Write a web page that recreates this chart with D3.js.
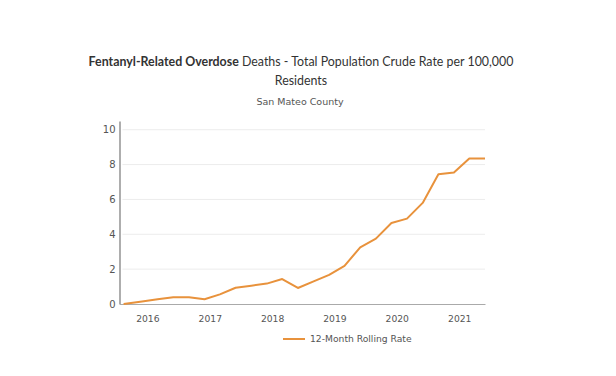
<!DOCTYPE html>
<html>
<head>
<meta charset="utf-8">
<script src="https://cdn.jsdelivr.net/npm/d3@7"></script>
<style>
  body { margin: 0; background: #fff; }
  svg { display: block; }
</style>
</head>
<body>
<svg id="chart" width="616" height="376"></svg>
<script>
// ---- data ----
const dates = [
  "2015-08-15","2015-12-01","2016-03-01","2016-06-01","2016-09-01","2016-12-01",
  "2017-03-01","2017-06-01","2017-09-01","2017-12-01","2018-03-01","2018-06-01",
  "2018-09-01","2018-12-01","2019-03-01","2019-06-01","2019-09-01","2019-12-01",
  "2020-03-01","2020-06-01","2020-09-01","2020-12-01","2021-03-01","2021-06-01"
];
const rates = [
  0.00, 0.15, 0.27, 0.39, 0.39, 0.27,
  0.55, 0.93, 1.05, 1.17, 1.43, 0.92,
  1.30, 1.67, 2.19, 3.25, 3.75, 4.65,
  4.90, 5.80, 7.44, 7.54, 8.35, 8.35
];
const yTicks = [0, 2, 4, 6, 8, 10];
const xTickYears = [2016, 2017, 2018, 2019, 2020, 2021];
const seriesName = "12-Month Rolling Rate";
const titleBold = "Fentanyl-Related Overdose";
const titleRest = " Deaths - Total Population Crude Rate per 100,000";
const titleLine2 = "Residents";
const subtitle = "San Mateo County";

(function () {
const svg = d3.select("#chart");
const parse = d3.utcParse("%Y-%m-%d");
const data = dates.map((d, i) => ({ date: parse(d), value: rates[i] }));

const mLeft = 119.5, mRight = 485, mTop = 121, mBottom = 304;
const x = d3.scaleUtc()
  .domain([parse("2015-07-22"), parse("2021-06-01")])
  .range([mLeft, mRight]);
const y = d3.scaleLinear().domain([0, 10.5]).range([mBottom, mTop]);

const color = "#E8923C";

// gridlines
svg.append("g")
  .selectAll("line")
  .data(yTicks.filter(t => t > 0))
  .join("line")
  .attr("x1", mLeft + 3).attr("x2", mRight)
  .attr("y1", d => y(d)).attr("y2", d => y(d))
  .attr("stroke", "#ececec").attr("stroke-width", 1);

// y axis
const yAxis = svg.append("g")
  .attr("transform", `translate(${mLeft},0)`)
  .call(d3.axisLeft(y).tickValues(yTicks).tickSize(0).tickPadding(4));
yAxis.select(".domain").attr("stroke", "#777").attr("stroke-width", 1.2);
yAxis.selectAll("text")
  .attr("fill", "#555").style("font-family", "DejaVu Sans, sans-serif").style("font-size", "10px");

// x axis
const xAxis = svg.append("g")
  .attr("transform", `translate(0,${mBottom})`)
  .call(d3.axisBottom(x)
    .tickValues(xTickYears.map(yr => new Date(Date.UTC(yr, 0, 1))))
    .tickFormat(d3.utcFormat("%Y"))
    .tickSize(0).tickPadding(11));
xAxis.select(".domain").attr("stroke", "#aaa").attr("stroke-width", 1);
xAxis.selectAll("text")
  .attr("fill", "#555").style("font-family", "DejaVu Sans, sans-serif").style("font-size", "9.2px");

// line
const line = d3.line().x(d => x(d.date)).y(d => y(d.value));
svg.append("path")
  .datum(data)
  .attr("d", line)
  .attr("fill", "none")
  .attr("stroke", color)
  .attr("stroke-width", 2)
  .attr("stroke-linejoin", "round");

// title
const t1 = svg.append("text")
  .attr("x", 301).attr("y", 66)
  .attr("text-anchor", "middle")
  .style("font-family", "Lato, 'Open Sans', sans-serif")
  .style("font-size", "12.4px")
  .attr("fill", "#333");
t1.append("tspan").attr("font-weight", "bold").text(titleBold);
t1.append("tspan").text(titleRest);
svg.append("text")
  .attr("x", 301).attr("y", 84.5)
  .attr("text-anchor", "middle")
  .style("font-family", "Lato, 'Open Sans', sans-serif")
  .style("font-size", "12.4px")
  .attr("fill", "#333")
  .text(titleLine2);
svg.append("text")
  .attr("x", 300).attr("y", 105)
  .attr("text-anchor", "middle")
  .style("font-family", "DejaVu Sans, sans-serif")
  .style("font-size", "9.5px")
  .attr("fill", "#555")
  .text(subtitle);

// legend
const lg = svg.append("g").attr("transform", "translate(283,339)");
lg.append("line").attr("x1", 0).attr("x2", 22).attr("y1", 0).attr("y2", 0)
  .attr("stroke", color).attr("stroke-width", 2);
lg.append("text").attr("x", 27).attr("y", 0).attr("dy", "0.35em")
  .style("font-family", "DejaVu Sans, sans-serif").style("font-size", "9.2px")
  .attr("fill", "#555").text(seriesName);
})();
</script>
</body>
</html>
